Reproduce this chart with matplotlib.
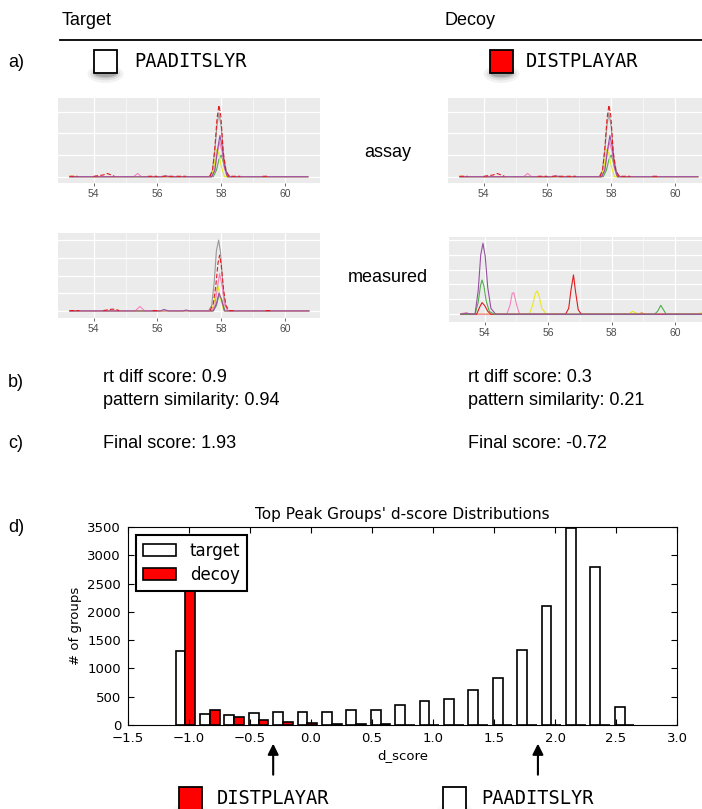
import numpy as np
import matplotlib
matplotlib.use("Agg")
import matplotlib.pyplot as plt
from matplotlib.patches import Rectangle, Ellipse

W, H = 702, 809
nan = np.nan

# ---- d)  top peak group d-score histogram (bin width 0.2) ----
bin_edges = np.linspace(-1.13, 2.67, 20)
target_counts = [1310, 192, 176, 212, 229, 229, 235, 259, 265, 357, 427, 462,
                 626, 836, 1327, 2111, 3480, 2795, 316]
decoy_counts = [3300, 257, 135, 82, 47, 35, 15, 22, 10, 8, 5, 3,
                0, 0, 0, 0, 0, 0, 0]
decoy_marker = -0.31
target_marker = 1.86

# ---- a)  chromatograms: retention time (min) / intensity (grid units) ----
# library assay (same picture for target and decoy)
assay_rt_gray = [53.25, 57.62, 57.72, 57.8, 57.87, 57.93, 58.0, 58.08, 58.18, 58.28, 60.72]
assay_int_gray = [0, 0, 0.25, 1.2, 2.4, 2.95, 2.3, 0.9, 0.15, 0, 0]
assay_rt_green = [53.25, 57.75, 57.85, 57.93, 58.0, 58.08, 58.18, 60.72]
assay_int_green = [0, 0, 0.3, 0.8, 1.0, 0.6, 0, 0]
assay_rt_yellow = [53.25, 53.45, 57.68, 57.77, 57.85, 57.92, 58.0, 58.1, 60.72]
assay_int_yellow = [0.03, 0, 0, 0.4, 1.25, 1.1, 0.5, 0, 0]
assay_rt_pink = [53.25, 55.25, 55.38, 55.5, 57.7, 57.8, 57.88, 57.95, 58.02, 58.1, 58.2, 60.72]
assay_int_pink = [0, 0, 0.15, 0, 0, 0.3, 1.1, 1.6, 1.2, 0.4, 0, 0]
assay_rt_purple = [53.25, 56.15, 56.25, 56.4, 57.7, 57.8, 57.88, 57.96, 58.03, 58.1, 58.2, 60.72]
assay_int_purple = [0, 0, 0.04, 0, 0, 0.3, 1.2, 1.9, 1.4, 0.5, 0, 0]
assay_rt_red = [53.25, 53.5, nan, 54.0, 54.3, 54.42, 54.55, 54.65, nan, 55.7, 56.0, nan,
                56.15, 56.5, nan, 56.6, 56.9, nan, 57.65, 57.73, 57.8, 57.87, 57.93,
                57.99, 58.06, 58.14, 58.25, 58.6, nan, 59.3, 59.5]
assay_int_red = [0.02, 0.02, nan, 0.02, 0.08, 0.15, 0.08, 0.02, nan, 0.02, 0.02, nan,
                 0.02, 0.02, nan, 0.02, 0.02, nan, 0.02, 0.3, 1.3, 2.7, 3.3,
                 2.8, 1.2, 0.3, 0.02, 0.02, nan, 0.02, 0.02]

# measured, target peptide
tgt_rt_gray = [53.25, 57.6, 57.7, 57.78, 57.85, 57.92, 57.98, 58.05, 58.13, 58.22, 60.75]
tgt_int_gray = [0, 0, 0.3, 1.6, 3.4, 4.0, 3.3, 1.5, 0.3, 0, 0]
tgt_rt_green = [53.25, 57.75, 57.85, 57.93, 58.02, 58.12, 60.75]
tgt_int_green = [0, 0, 0.3, 0.9, 0.6, 0, 0]
tgt_rt_yellow = [53.25, 53.4, 57.68, 57.77, 57.84, 57.9, 57.98, 58.08, 60.75]
tgt_int_yellow = [0.03, 0, 0, 0.4, 1.2, 1.4, 0.7, 0, 0]
tgt_rt_pink = [53.25, 55.3, 55.45, 55.6, 57.7, 57.8, 57.88, 57.95, 58.02, 58.1, 58.2, 60.75]
tgt_int_pink = [0, 0, 0.25, 0, 0, 0.3, 1.3, 2.1, 1.5, 0.4, 0, 0]
tgt_rt_purple = [53.25, 56.1, 56.2, 56.35, 56.8, 56.9, 57.0, 57.75, 57.85, 57.93, 58.0, 58.1, 60.75]
tgt_int_purple = [0, 0, 0.08, 0, 0, 0.05, 0, 0, 0.4, 1.0, 0.7, 0, 0]
tgt_rt_red = [53.25, 53.55, nan, 54.3, 54.5, 54.6, 54.7, 54.8, nan, 55.85, 56.0, nan,
              57.65, 57.75, 57.83, 57.9, 57.95, 58.0, 58.08, 58.15, 58.25, 58.4, nan,
              59.4, 59.55]
tgt_int_red = [0.02, 0.02, nan, 0.02, 0.08, 0.1, 0.08, 0.02, nan, 0.02, 0.02, nan,
               0.02, 0.4, 1.4, 2.7, 3.15, 2.6, 1.1, 0.3, 0.02, 0.02, nan,
               0.02, 0.02]

# measured, decoy peptide
dec_rt_gray = [53.25, 61.0]
dec_int_gray = [0, 0]
dec_rt_purple = [53.25, 53.4, 53.45, 53.5, 53.7, 53.8, 53.88, 53.95, 54.02, 54.1, 54.2, 54.35, 61.0]
dec_int_purple = [0, 0.05, 0.08, 0.03, 0, 1.6, 4.0, 4.77, 3.9, 1.8, 0.4, 0, 0]
dec_rt_green = [53.25, 53.7, 53.8, 53.87, 53.92, 53.98, 54.05, 54.15, 54.3,
                59.35, 59.45, 59.55, 59.62, 59.72, 61.0]
dec_int_green = [0, 0, 0.8, 1.9, 2.3, 1.9, 0.9, 0.2, 0, 0, 0.2, 0.6, 0.35, 0, 0]
dec_rt_red = [53.25, 53.75, 53.85, 53.92, 54.0, 54.1, 54.2, 56.55, 56.65, 56.72,
              56.8, 56.86, 56.95, 57.05, 61.0]
dec_int_red = [0, 0, 0.5, 0.78, 0.6, 0.2, 0, 0, 0.4, 1.6, 2.64, 1.6, 0.3, 0, 0]
dec_rt_pink = [53.25, 53.35, 53.42, 53.5, 54.7, 54.8, 54.87, 54.92, 55.0, 55.1, 61.0]
dec_int_pink = [0, 0.08, 0.1, 0, 0, 0.6, 1.4, 1.45, 0.7, 0, 0]
dec_rt_yellow = [53.25, 55.4, 55.5, 55.6, 55.66, 55.72, 55.8, 55.95, 58.55, 58.65,
                 58.75, 58.9, 60.7, 60.85, 61.0]
dec_int_yellow = [0, 0, 0.5, 1.4, 1.58, 1.2, 0.4, 0, 0, 0.2, 0.1, 0, 0, 0.1, 0.1]
dec_rt_orange = [53.25, 58.85, 58.95, 59.05, 61.0]
dec_int_orange = [0, 0, 0.1, 0, 0]

C_GRAY, C_GREEN, C_YELLOW = "#999999", "#4DAF4A", "#E8E820"
C_PINK, C_PURPLE, C_RED, C_ORANGE = "#F781BF", "#984EA3", "#E41A1C", "#FF7F00"

plt.rcParams["font.family"] = "DejaVu Sans"
SANS = "Liberation Sans"
MONO = "DejaVu Sans Mono"

fig = plt.figure(figsize=(W / 100, H / 100), dpi=100)


def axes_px(x0, y0, x1, y1):
    return fig.add_axes([x0 / W, 1 - y1 / H, (x1 - x0) / W, (y1 - y0) / H])


# overlay in pixel coords for labels / decorations
ov = axes_px(0, 0, W, H)
ov.set_xlim(0, W)
ov.set_ylim(H, 0)
ov.axis("off")


def txt(x, y, s, size=13, family=SANS, **kw):
    ov.text(x, y, s, fontsize=size, family=family, va="center", ha=kw.pop("ha", "left"), **kw)


def swatch(x, y, color, shadow=1.0):
    for w, h, a in [(36, 18, 0.05), (30, 13, 0.07), (25, 9, 0.11), (21, 6, 0.16)]:
        ov.add_patch(Ellipse((x + 11.5, y + 24), w, h, color="black", alpha=a * shadow, lw=0))
    ov.add_patch(Rectangle((x, y), 23, 23, facecolor=color, edgecolor="black", lw=1.3))


txt(62, 20, "Target", size=13)
txt(445, 20, "Decoy", size=13)
ov.plot([60, 702], [40, 40], color="black", lw=1.3)

txt(8, 62, "a)")
swatch(94, 50, "white")
txt(134, 61, "PAADITSLYR", size=13.5, family=MONO)
swatch(490, 50, "red")
txt(526, 61, "DISTPLAYAR", size=13.5, family=MONO)

txt(388, 152, "assay", ha="center")
txt(388, 277, "measured", ha="center")

txt(8, 382, "b)")
txt(103, 377, "rt diff score: 0.9")
txt(103, 400, "pattern similarity: 0.94")
txt(468, 377, "rt diff score: 0.3")
txt(468, 400, "pattern similarity: 0.21")

txt(8, 443, "c)")
txt(103, 443, "Final score: 1.93")
txt(468, 443, "Final score: -0.72")

txt(8, 527, "d)")

swatch(179, 787, "red", shadow=0.5)
txt(217, 798, "DISTPLAYAR", size=13.5, family=MONO)
swatch(443, 787, "white", shadow=0.5)
txt(481, 798, "PAADITSLYR", size=13.5, family=MONO)


def chrom_axes(x0, y0, x1, y1, ylim, ngrid):
    ax = axes_px(x0, y0, x1, y1)
    ax.set_facecolor("#EBEBEB")
    for s in ax.spines.values():
        s.set_visible(False)
    ax.set_xlim(52.88, 61.1)
    ax.set_ylim(*ylim)
    ax.set_xticks([54, 56, 58, 60])
    ax.set_xticks([55, 57, 59], minor=True)
    ax.set_yticks(range(ngrid))
    ax.set_yticklabels([])
    ax.grid(True, which="major", color="white", lw=0.9)
    ax.grid(True, which="minor", axis="x", color="white", lw=0.4)
    ax.set_axisbelow(True)
    ax.tick_params(axis="x", which="major", length=2.5, width=0.6, color="#555555",
                   labelsize=7.5, labelcolor="#4D4D4D", pad=2)
    ax.tick_params(axis="x", which="minor", length=0)
    ax.tick_params(axis="y", length=0)
    for lab in ax.get_xticklabels():
        lab.set_family(SANS)
    return ax


def draw(ax, rt, inten, color, ls="-"):
    ax.plot(rt, inten, color=color, lw=0.8, ls=ls, dashes=(4, 2) if ls == "--" else (None, None))


for x0 in (58, 448):
    ax = chrom_axes(x0, 98, x0 + 262, 183, (-0.29, 3.63), 4)
    draw(ax, assay_rt_gray, assay_int_gray, C_GRAY)
    draw(ax, assay_rt_green, assay_int_green, C_GREEN)
    draw(ax, assay_rt_yellow, assay_int_yellow, C_YELLOW)
    draw(ax, assay_rt_pink, assay_int_pink, C_PINK)
    draw(ax, assay_rt_purple, assay_int_purple, C_PURPLE)
    draw(ax, assay_rt_red, assay_int_red, C_RED, "--")

ax = chrom_axes(58, 233, 320, 318, (-0.4, 4.4), 5)
draw(ax, tgt_rt_gray, tgt_int_gray, C_GRAY)
draw(ax, tgt_rt_green, tgt_int_green, C_GREEN)
draw(ax, tgt_rt_yellow, tgt_int_yellow, C_YELLOW)
draw(ax, tgt_rt_pink, tgt_int_pink, C_PINK)
draw(ax, tgt_rt_purple, tgt_int_purple, C_PURPLE)
draw(ax, tgt_rt_red, tgt_int_red, C_RED, "--")

ax = chrom_axes(449, 237, 710, 322, (-0.52, 5.19), 6)
draw(ax, dec_rt_gray, dec_int_gray, C_GRAY)
draw(ax, dec_rt_orange, dec_int_orange, C_ORANGE)
draw(ax, dec_rt_yellow, dec_int_yellow, C_YELLOW)
draw(ax, dec_rt_pink, dec_int_pink, C_PINK)
draw(ax, dec_rt_red, dec_int_red, C_RED)
draw(ax, dec_rt_green, dec_int_green, C_GREEN)
draw(ax, dec_rt_purple, dec_int_purple, C_PURPLE)

# ---- d) histogram ----
hx = axes_px(128, 527, 677, 725)
centers = (bin_edges[:-1] + bin_edges[1:]) / 2
hx.hist([centers, centers], bins=bin_edges, weights=[target_counts, decoy_counts],
        color=["white", "red"], edgecolor="black", linewidth=1.2,
        label=["target", "decoy"])
hx.set_xlim(-1.5, 3.0)
hx.set_ylim(0, 3500)
hx.set_xticks(np.arange(-1.5, 3.01, 0.5))
hx.set_yticks(np.arange(0, 3501, 500))
hx.tick_params(direction="in", top=True, right=True, length=4, labelsize=9.5, pad=5)
hx.set_title("Top Peak Groups' d-score Distributions", fontsize=11, pad=6)
hx.set_xlabel("d_score", fontsize=9.5, labelpad=3)
hx.set_ylabel("# of groups", fontsize=9.5, labelpad=4)
leg = hx.legend(loc="upper left", fontsize=12, fancybox=False, framealpha=1,
                edgecolor="black", handlelength=2.0, borderpad=0.4,
                labelspacing=0.35, handletextpad=0.8, borderaxespad=0.5)
leg.get_frame().set_linewidth(1.5)

for xm in (decoy_marker, target_marker):
    hx.annotate("", xy=(xm, -0.08), xytext=(xm, -0.265),
                xycoords=("data", "axes fraction"), textcoords=("data", "axes fraction"),
                arrowprops=dict(arrowstyle="-|>", color="black", lw=1.5, mutation_scale=16),
                annotation_clip=False)

fig.savefig("out.png", dpi=100)
